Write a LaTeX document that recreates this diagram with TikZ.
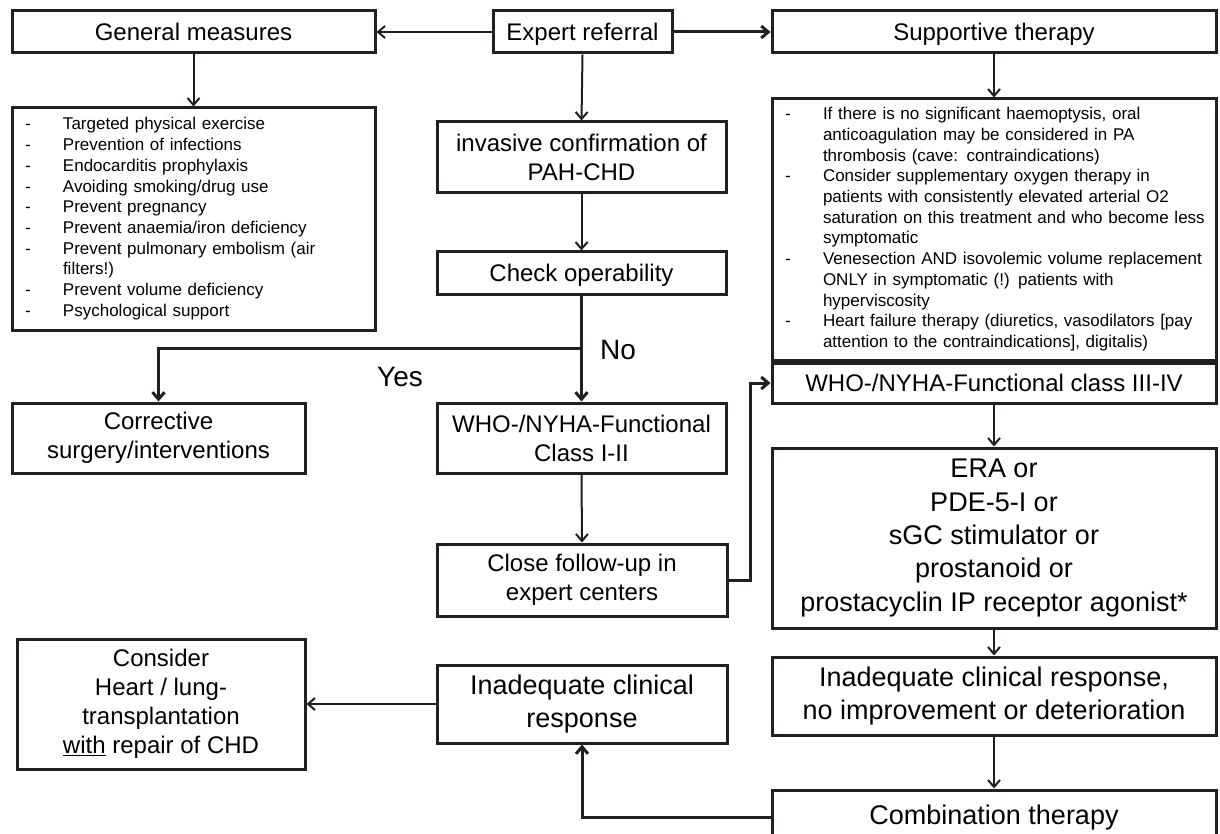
\documentclass[tikz,border=0pt]{standalone}
\usepackage{fontspec}
\setmainfont{Liberation Sans}
\usetikzlibrary{arrows.meta}
\definecolor{ink}{HTML}{231F20}
\begin{document}
\begin{tikzpicture}[x=1pt,y=-1pt,
  box/.style={draw=ink, line width=3pt, inner sep=0pt, align=center, text=black, font=\fontsize{24}{29}\selectfont},
  big/.style={font=\fontsize{27}{33.4}\selectfont},
  oneline/.style={text height=22pt, text depth=4.8pt},
  onelinebig/.style={text height=25pt, text depth=5.7pt},
  listbox/.style={draw=ink, line width=3pt, inner xsep=13pt, inner ysep=0pt, align=left, text=black, font=\fontsize{17}{20.7}\selectfont},
  thinarrow/.style={draw=ink, line width=2pt, -{Straight Barb[length=7pt,width=12pt]}},
  thickarrow/.style={draw=ink, line width=3pt, -{Straight Barb[length=7pt,width=12pt]}},
  lbl/.style={font=\fontsize{28}{33}\selectfont, inner sep=0pt, text=black}
]
\clip (0,0) rectangle (1220,834);
\fill[white] (0,0) rectangle (1220,834);

% top row
\node[box, oneline, minimum width=363pt, minimum height=42pt] (gen) at (193.5,32) {General measures};
\node[box, oneline, minimum width=179pt, minimum height=42pt] (exp) at (582.5,32) {Expert referral};
\node[box, oneline, minimum width=444pt, minimum height=42pt] (sup) at (994,32) {Supportive therapy};

% left list
\node[listbox, text width=337pt, minimum height=222pt] (genlist) at (193.5,219) {\begin{tabular}{@{}p{38pt}@{}l@{}}
-&Targeted physical exercise\\
-&Prevention of infections\\
-&Endocarditis prophylaxis\\
-&Avoiding smoking/drug use\\
-&Prevent pregnancy\\
-&Prevent anaemia/iron deficiency\\
-&Prevent pulmonary embolism (air\\
&filters!)\\
-&Prevent volume deficiency\\
-&Psychological support
\end{tabular}};

% right list
\node[listbox, text width=418pt, minimum height=261pt] (suplist) at (994,229.5) {\begin{tabular}{@{}p{38pt}@{}l@{}}
-&If there is no significant haemoptysis, oral\\
&anticoagulation may be considered in PA\\
&thrombosis (cave: contraindications)\\
-&Consider supplementary oxygen therapy in\\
&patients with consistently elevated arterial O2\\
&saturation on this treatment and who become less\\
&symptomatic\\
-&Venesection AND isovolemic volume replacement\\
&ONLY in symptomatic (!) patients with\\
&hyperviscosity\\
-&Heart failure therapy (diuretics, vasodilators [pay\\
&attention to the contraindications], digitalis)
\end{tabular}};

% middle column
\node[box, minimum width=289pt, minimum height=71pt] (inv) at (581.5,157.5) {invasive confirmation of\\PAH-CHD};
\node[box, oneline, minimum width=289pt, minimum height=42pt] (chk) at (581.5,273) {Check operability};
\node[box, minimum width=289pt, minimum height=70pt] (who12) at (581.5,438) {WHO-/NYHA-Functional\\Class I-II};
\node[box, minimum width=290pt, minimum height=72pt] (close) at (582,580) {Close follow-up in\\expert centers};
\node[box, big, minimum width=290pt, minimum height=78pt] (inad1) at (582,704) {Inadequate clinical\\response};

% left column
\node[box, minimum width=293pt, minimum height=70pt] (corr) at (158.5,438) {Corrective\\surgery/interventions};
\node[box, minimum width=288pt, minimum height=130pt] (cons) at (161,704) {Consider\\Heart / lung-\\transplantation\\\underline{with} repair of CHD};

% right column
\node[box, oneline, minimum width=444pt, minimum height=40pt] (who34) at (994,383) {WHO-/NYHA-Functional class III-IV};
\node[box, big, minimum width=444pt, minimum height=180pt] (era) at (994,538) {ERA or\\PDE-5-I or\\sGC stimulator or\\prostanoid or\\prostacyclin IP receptor agonist*};
\node[box, big, minimum width=444pt, minimum height=78pt] (inad2) at (994,696) {Inadequate clinical response,\\no improvement or deterioration};
\node[box, big, onelinebig, minimum width=444pt, minimum height=50pt] (comb) at (994,815) {Combination therapy};

% labels
\node[lbl] (no) at (618,350) {No};
\node[lbl] (yes) at (400,377) {Yes};

% connectors
\draw[thinarrow] (exp.west) -- (gen.east);
\draw[thickarrow] (exp.east) -- (sup.west);
\draw[thinarrow] (gen.south) -- (genlist.north);
\draw[thinarrow] (exp.south) -- (inv.north);
\draw[thinarrow] (inv.south) -- (chk.north);
\draw[thickarrow] (chk.south) -- (who12.north);
\coordinate (br) at (581.5,348);
\draw[thickarrow] (br) -| (corr.north);
\draw[thinarrow] (who12.south) -- (close.north);
\draw[thickarrow] (close.east) -- ++(22,0) |- (who34.west);
\draw[thinarrow] (sup.south) -- (suplist.north);
\draw[thinarrow] (who34.south) -- (era.north);
\draw[thinarrow] (era.south) -- (inad2.north);
\draw[thinarrow] (inad2.south) -- (comb.north);
\draw[thickarrow] ([yshift=-2pt]comb.west) -| (inad1.south);
\draw[thinarrow] (inad1.west) -- (cons.east);
\end{tikzpicture}
\end{document}
